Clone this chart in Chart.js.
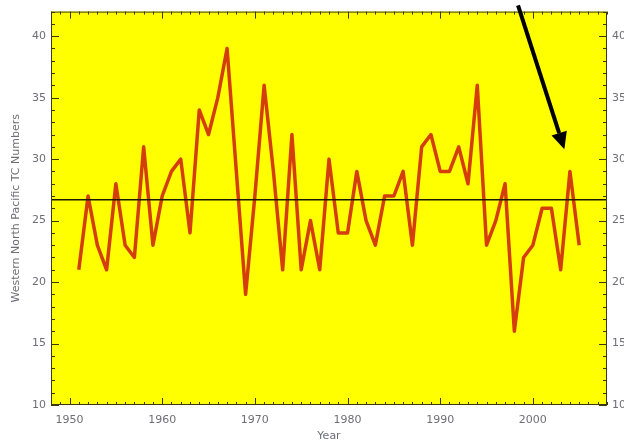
<!DOCTYPE html>
<html>
<head>
<meta charset="utf-8">
<script src="https://cdn.jsdelivr.net/npm/chart.js@4"></script>
<style>
  html, body { margin:0; padding:0; background:#fff; }
  #wrap { width:624px; height:443px; }
</style>
</head>
<body>
<div id="wrap"><canvas id="chart"></canvas></div>
<script>
// DATA
const years = [1951,1952,1953,1954,1955,1956,1957,1958,1959,1960,
  1961,1962,1963,1964,1965,1966,1967,1968,1969,1970,
  1971,1972,1973,1974,1975,1976,1977,1978,1979,1980,
  1981,1982,1983,1984,1985,1986,1987,1988,1989,1990,
  1991,1992,1993,1994,1995,1996,1997,1998,1999,2000,
  2001,2002,2003,2004,2005];
const tcCounts = [21,27,23,21,28,23,22,31,23,27,
  29,30,24,34,32,35,39,29,19,27,
  36,29,21,32,21,25,21,30,24,24,
  29,25,23,27,27,29,23,31,32,29,
  29,31,28,36,23,25,28,16,22,23,
  26,26,21,29,23];
const meanCount = 26.7;
const xTicks = [1950,1960,1970,1980,1990,2000];
const yTicks = [10,15,20,25,30,35,40];
const xRange = [1948,2008];
const yRange = [10,42];
// arrow annotation, in data units (year, count)
const arrowFrom = [1998.4,42.5];
const arrowTo = [2003.4,30.8];

const textGrey = "#6e6e78";
const font = {family:"DejaVu Sans", size:11};

// PLOT BOX, YELLOW, TICKS, ARROW
const plotDeco = {
  id:"plotDeco",
  beforeDraw(c){
    let {ctx, chartArea:a} = c;
    ctx.save();
    ctx.fillStyle = "#fff";
    ctx.fillRect(0,0,c.width,c.height);
    ctx.fillStyle = "#ffff00";
    ctx.fillRect(a.left,a.top,a.right-a.left,a.bottom-a.top);
    ctx.restore();
  },
  afterDatasetsDraw(c){
    let {ctx, chartArea:a, scales} = c;
    let x = scales.x, y = scales.y;
    ctx.save();
    ctx.strokeStyle = "#3a3a10";
    ctx.lineWidth = 1;
    ctx.strokeRect(a.left+0.5,a.top+0.5,a.right-a.left-1,a.bottom-a.top-1);

    ctx.beginPath();
    for(let yr=xRange[0]; yr<=xRange[1]; yr++){
      let px = Math.round(x.getPixelForValue(yr))+0.5;
      let len = yr%10===0 ? 7 : 3;
      ctx.moveTo(px,a.bottom); ctx.lineTo(px,a.bottom-len);
      ctx.moveTo(px,a.top); ctx.lineTo(px,a.top+len);
    }
    for(let v=yRange[0]; v<=yRange[1]; v++){
      let py = Math.round(y.getPixelForValue(v))+0.5;
      let len = v%5===0 ? 8 : 4;
      ctx.moveTo(a.left,py); ctx.lineTo(a.left+len,py);
      ctx.moveTo(a.right,py); ctx.lineTo(a.right-len,py);
    }
    ctx.stroke();

    // arrow
    let x0 = x.getPixelForValue(arrowFrom[0]), y0 = y.getPixelForValue(arrowFrom[1]);
    let x1 = x.getPixelForValue(arrowTo[0]), y1 = y.getPixelForValue(arrowTo[1]);
    let ang = Math.atan2(y1-y0,x1-x0);
    let head = 17, half = 8;
    let bx = x1-head*Math.cos(ang), by = y1-head*Math.sin(ang);
    ctx.strokeStyle = "#000";
    ctx.fillStyle = "#000";
    ctx.lineWidth = 4;
    ctx.beginPath();
    ctx.moveTo(x0,y0); ctx.lineTo(bx,by);
    ctx.stroke();
    ctx.beginPath();
    ctx.moveTo(x1,y1);
    ctx.lineTo(bx+half*Math.sin(ang),by-half*Math.cos(ang));
    ctx.lineTo(bx-half*Math.sin(ang),by+half*Math.cos(ang));
    ctx.closePath();
    ctx.fill();
    ctx.restore();
  }
};

const setTicks = vals => s => { s.ticks = vals.map(v=>({value:v})); };

new Chart(document.getElementById("chart"),{
  type:"line",
  data:{
    datasets:[
      {
        label:"Mean",
        data:xRange.map(yr=>({x:yr,y:meanCount})),
        borderColor:"#1c1c00",
        borderWidth:1.6,
        pointRadius:0,
        order:0
      },
      {
        label:"TC Numbers",
        data:years.map((yr,i)=>({x:yr,y:tcCounts[i]})),
        borderColor:"#d43e0c",
        borderWidth:3.5,
        borderJoinStyle:"round",
        pointRadius:0,
        tension:0,
        order:1
      }
    ]
  },
  options:{
    responsive:true,
    maintainAspectRatio:false,
    animation:false,
    layout:{padding:{top:6,left:0,right:0,bottom:0}},
    plugins:{legend:{display:false}, tooltip:{enabled:false}},
    scales:{
      x:{
        type:"linear",
        min:xRange[0], max:xRange[1],
        afterBuildTicks:setTicks(xTicks),
        afterFit(s){ s.height = 38; },
        grid:{display:false, drawTicks:false},
        border:{display:false},
        ticks:{color:textGrey, font, padding:9, maxRotation:0, autoSkip:false,
          callback:v=>String(v)},
        title:{display:true, text:"Year", color:textGrey, font, padding:{top:0,bottom:0}}
      },
      y:{
        position:"left",
        min:yRange[0], max:yRange[1],
        afterBuildTicks:setTicks(yTicks),
        afterFit(s){ s.width = 51; },
        grid:{display:false, drawTicks:false},
        border:{display:false},
        ticks:{color:textGrey, font, padding:5},
        title:{display:true, text:"Western North Pacific TC Numbers", color:textGrey, font,
          padding:{top:10,bottom:0}}
      },
      y2:{
        position:"right",
        min:yRange[0], max:yRange[1],
        afterBuildTicks:setTicks(yTicks),
        afterFit(s){ s.width = 17; },
        grid:{display:false, drawTicks:false},
        border:{display:false},
        ticks:{color:textGrey, font, padding:5}
      }
    }
  },
  plugins:[plotDeco]
});
</script>
</body>
</html>
